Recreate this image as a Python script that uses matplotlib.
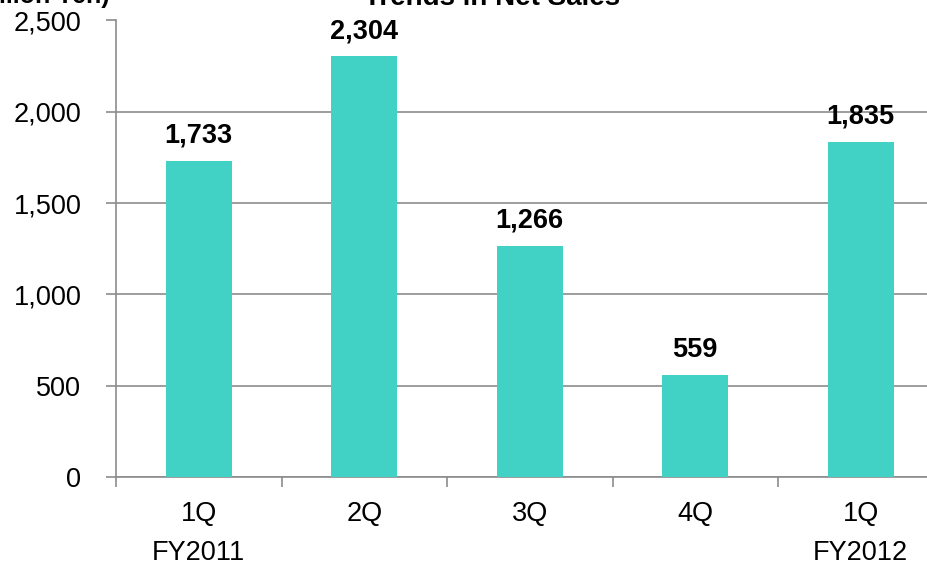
import numpy as np
import matplotlib
matplotlib.use("Agg")
import matplotlib.pyplot as plt
from matplotlib.ticker import FuncFormatter, MultipleLocator
from matplotlib.transforms import blended_transform_factory

plt.rcParams['font.family'] = ['Liberation Sans', 'DejaVu Sans']

# chart data
quarters = ['1Q', '2Q', '3Q', '4Q', '1Q']
fiscal_years = ['FY2011', '', '', '', 'FY2012']
net_sales = [1733, 2304, 1266, 559, 1835]

bar_color = '#41d2c5'
grey = '#8c8c8c'

fig = plt.figure(figsize=(9.28, 5.64), dpi=100)
# axes runs past the right edge like the original
ax = fig.add_axes([116 / 928, 87 / 564, 827.5 / 928, 456.5 / 564])

x = np.arange(len(net_sales))
ax.bar(x, net_sales, width=0.4, color=bar_color, zorder=3)

ax.set_xlim(-0.5, len(net_sales) - 0.5)
ax.set_ylim(0, 2500)
ax.yaxis.set_major_locator(MultipleLocator(500))
ax.yaxis.set_major_formatter(FuncFormatter(lambda v, p: '{:,.0f}'.format(v)))
ax.grid(axis='y', color=grey, linewidth=1.2, zorder=0)

# category labels at centres, ticks at the boundaries
ax.set_xticks(x)
ax.set_xticklabels(quarters)
ax.set_xticks(np.arange(-0.5, len(net_sales)), minor=True)
ax.tick_params(axis='x', which='major', length=0, pad=17, labelsize=19.5)
ax.tick_params(axis='x', which='minor', length=7, width=1.2, color=grey)
ax.tick_params(axis='y', length=7, width=1.2, color=grey, pad=18, labelsize=19.5)

for side in ['top', 'right']:
    ax.spines[side].set_visible(False)
for side in ['left', 'bottom']:
    ax.spines[side].set_color(grey)
    ax.spines[side].set_linewidth(1.2)

# value labels
for xi, v in zip(x, net_sales):
    ax.annotate('{:,}'.format(v), (xi, v), xytext=(0, 13), textcoords='offset points',
                ha='center', va='baseline', fontsize=19.5, fontweight='bold')

# fiscal year labels under the quarters
fy_trans = blended_transform_factory(ax.transData, fig.transFigure)
for xi, fy in zip(x, fiscal_years):
    if fy:
        ax.text(xi, 1 - 560 / 564, fy, transform=fy_trans,
                ha='center', va='baseline', fontsize=19.5)

# title and unit, cut off at the top like the original
fig.text(492 / 928, 1 - 5 / 564, 'Trends in Net Sales', ha='center', va='baseline',
         fontsize=20, fontweight='bold')
fig.text(110 / 928, 1 - 2.5 / 564, '(Million Yen)', ha='right', va='baseline',
         fontsize=18, fontweight='bold')

fig.savefig('out.png', dpi=100)
